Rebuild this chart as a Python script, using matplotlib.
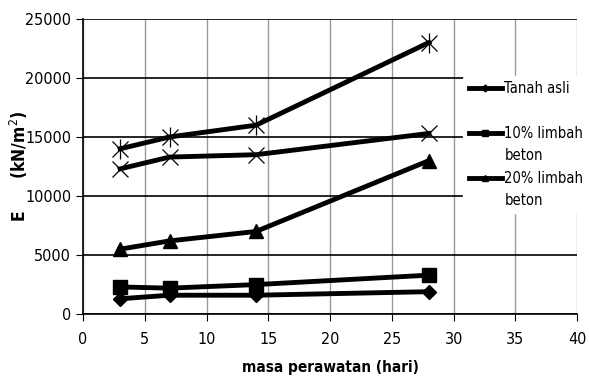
import matplotlib.pyplot as plt
from matplotlib import font_manager
from matplotlib.lines import Line2D

# pick a narrow font if one is installed
fam = ['Liberation Sans', 'DejaVu Sans']
stretch = 'normal'
names = {f.name for f in font_manager.fontManager.ttflist}
if 'Liberation Sans Narrow' in names:
    fam = ['Liberation Sans Narrow'] + fam
elif any('Condensed' in f.fname for f in font_manager.fontManager.ttflist if f.name == 'DejaVu Sans'):
    fam = ['DejaVu Sans']
    stretch = 'condensed'
plt.rcParams['font.family'] = fam
plt.rcParams['font.stretch'] = stretch

# data
hari = [3, 7, 14, 28]
tanah_asli = [1300, 1600, 1600, 1900]
limbah_10 = [2300, 2200, 2500, 3300]
limbah_20 = [5500, 6200, 7000, 13000]
seri_x = [12300, 13300, 13500, 15300]
seri_bintang = [14000, 15000, 16000, 23000]

fig = plt.figure(figsize=(5.89, 3.78), dpi=100)
ax = fig.add_axes([0.141, 0.169, 0.839, 0.781])

l1, = ax.plot(hari, tanah_asli, color='black', lw=3.5, marker='D', ms=7, zorder=3)
l2, = ax.plot(hari, limbah_10, color='black', lw=3.5, marker='s', ms=10, zorder=3)
l3, = ax.plot(hari, limbah_20, color='black', lw=3.5, marker='^', ms=10, zorder=3)
ax.plot(hari, seri_x, color='black', lw=3.5, zorder=3)
ax.plot(hari, seri_x, ls='none', marker='x', ms=12, mew=0.9, color='black', zorder=4)
ax.plot(hari, seri_bintang, color='black', lw=3.5, zorder=3)
ax.plot(hari, seri_bintang, ls='none', marker='x', ms=12, mew=0.9, color='black', zorder=4)
ax.plot(hari, seri_bintang, ls='none', marker='|', ms=14, mew=0.9, color='black', zorder=4)

ax.set_xlim(0, 40)
ax.set_ylim(0, 25000)
ax.set_xticks(range(0, 41, 5))
ax.set_yticks(range(0, 25001, 5000))
ax.grid(axis='x', color='#999999', lw=1)
ax.grid(axis='y', color='black', lw=1.2)
ax.set_axisbelow(True)
for s in ['top', 'right']:
    ax.spines[s].set_visible(False)
ax.spines['left'].set_linewidth(1.2)
ax.spines['bottom'].set_linewidth(1.2)
ax.tick_params(direction='out', length=5, labelsize=11.5)
ax.tick_params(axis='x', pad=8)

ax.set_xlabel('masa perawatan (hari)', fontsize=11, fontweight='bold', labelpad=9)
ax.set_ylabel('E      (kN/m$^2$)', fontsize=12.5, fontweight='bold')
ax.yaxis.set_label_coords(-0.108, 0.5)

# legend: multi-line labels split into rows so the handle sits on the first line
blank = Line2D([], [], color='none')
handles = [l1, blank, l2, blank, l3, blank]
labels = ['Tanah asli', ' ', '10% limbah', 'beton', '20% limbah', 'beton']
leg = ax.legend(handles, labels,
                loc='upper left', bbox_to_anchor=(0.755, 0.83), frameon=True,
                fontsize=10.5, handlelength=2.3, labelspacing=0.5, borderpad=0.35,
                handletextpad=0.15, markerscale=0.5)
leg.get_frame().set_edgecolor('white')
leg.get_frame().set_facecolor('white')
leg.get_frame().set_alpha(1)

fig.savefig('out.png', dpi=100)
